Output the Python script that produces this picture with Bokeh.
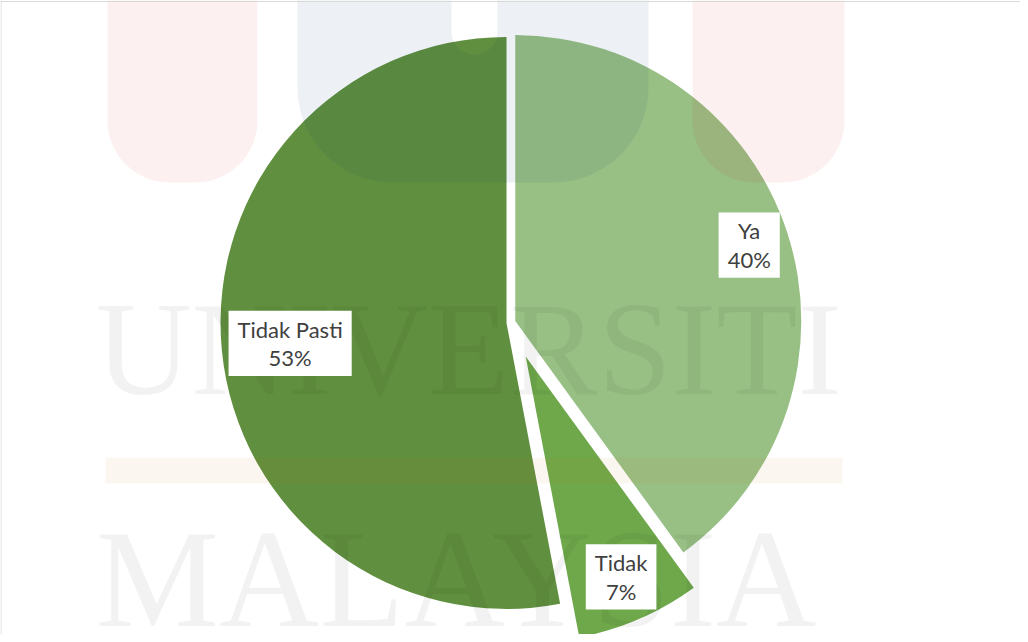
import numpy as np
from bokeh.plotting import figure
from bokeh.models import Range1d, ColumnDataSource, Span
from bokeh.core.properties import value
from bokeh.embed import file_html
from bokeh.resources import INLINE

# ---- data ----
categories = ["Ya", "Tidak", "Tidak Pasti"]
percentages = [40, 7, 53]
colors = ["#98c085", "#6ea84b", "#60903f"]

# ---- style / layout constants ----
W, H = 1020, 634
CX, CY, R = 510.5, 312.0, 286.0
explode_px = [4.5, 37.0, 4.5]
label_frac = [0.86, 0.84, 0.76]

p = figure(width=W, height=H, output_backend="svg", toolbar_location=None,
           x_axis_type=None, y_axis_type=None, min_border=0,
           x_range=Range1d(0, W), y_range=Range1d(0, H))
p.grid.visible = False
p.outline_line_color = None
p.background_fill_color = "white"
p.border_fill_color = "white"

# ---- pie geometry from data ----
total = float(sum(percentages))
fr = np.array(percentages) / total
ends_cum = np.cumsum(fr)
starts_cum = ends_cum - fr
start_ang = np.pi / 2 - 2 * np.pi * starts_cum
end_ang = np.pi / 2 - 2 * np.pi * ends_cum
mid_ang = (start_ang + end_ang) / 2
ox = CX + np.array(explode_px) * np.cos(mid_ang)
oy = CY + np.array(explode_px) * np.sin(mid_ang)

src = ColumnDataSource(dict(x=ox, y=oy, start=start_ang, end=end_ang, color=colors))
p.wedge(x="x", y="y", radius=R, start_angle="start", end_angle="end",
        direction="clock", fill_color="color", line_color=None, source=src)

# ---- faint watermark (university logo) drawn over the chart ----
def rounded_bottom(x0, x1, yb, r, ytop=700, n=24):
    xs, ys = [x0], [ytop]
    t = np.linspace(np.pi, 1.5 * np.pi, n)
    xs += list(x0 + r + r * np.cos(t)); ys += list(yb + r + r * np.sin(t))
    t = np.linspace(1.5 * np.pi, 2 * np.pi, n)
    xs += list(x1 - r + r * np.cos(t)); ys += list(yb + r + r * np.sin(t))
    xs += [x1]; ys += [ytop]
    return xs, ys

pk1 = rounded_bottom(107, 257, 452, 62)
pk2 = rounded_bottom(692, 844, 452, 62)
p.patches([pk1[0], pk2[0]], [pk1[1], pk2[1]], fill_color="#c80000",
          fill_alpha=0.06, line_color=None)

bx, by = rounded_bottom(297, 648, 452, 95)
nr = 23
t = np.linspace(0, -np.pi, 30)
nx = list(474 + nr * np.cos(t))
ny = list(603 + nr * np.sin(t))
ux = bx + [497] + nx + [451, 297]
uy = by + [700] + ny + [700, 700]
p.patch(ux, uy, fill_color="#002864", fill_alpha=0.07, line_color=None)

p.quad(left=[105], right=[842], bottom=[151], top=[177], fill_color="#c86400",
       fill_alpha=0.06, line_color=None)

p.text(x=[95], y=[286], text=["UNIVERSITI"], text_font=value("Liberation Serif"),
       text_font_size="133px", text_color="black", text_alpha=0.05,
       text_baseline="alphabetic", text_align="left")
p.text(x=[95], y=[56], text=["MALAYSIA"], text_font=value("Liberation Serif"),
       text_font_size="139px", text_color="black", text_alpha=0.05,
       text_baseline="alphabetic", text_align="left")

# ---- data labels ----
lx = ox + np.array(label_frac) * R * np.cos(mid_ang)
ly = oy + np.array(label_frac) * R * np.sin(mid_ang)
labels = [f"{c}\n{v}%" for c, v in zip(categories, percentages)]
lsrc = ColumnDataSource(dict(x=lx, y=ly, text=labels))
p.text(x="x", y="y", text="text", source=lsrc, text_font=value("Lato"),
       text_font_size="22px", text_color="#404040", text_align="center",
       text_baseline="middle", text_line_height=1.05,
       background_fill_color="white", padding=(9, 5))

# chart-area border (top and left edges visible in the view)
p.add_layout(Span(location=H - 1, dimension="width", line_color="#d9d9d9", line_width=1))
p.add_layout(Span(location=0.5, dimension="height", line_color="#d9d9d9", line_width=1))

open("out.html", "w").write(file_html(p, INLINE))
